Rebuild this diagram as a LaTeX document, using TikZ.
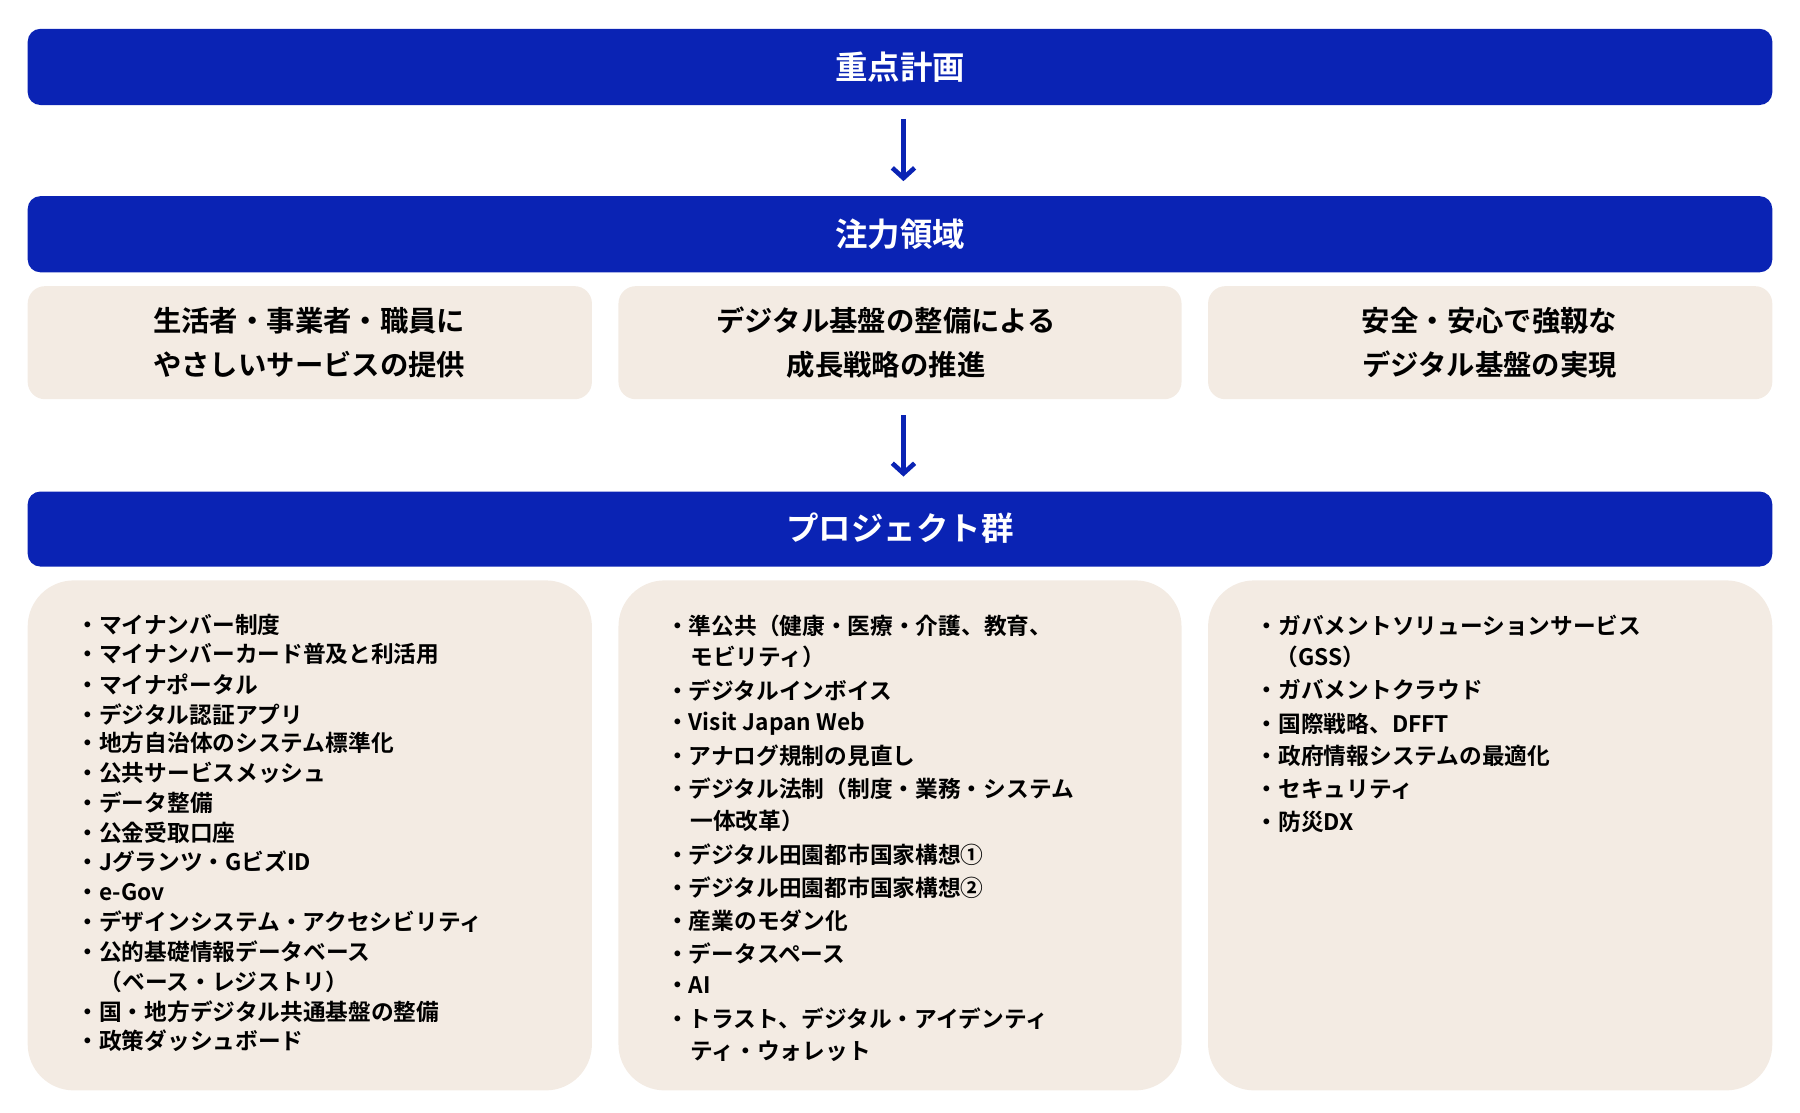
\documentclass[tikz,border=0pt]{standalone}
\usepackage{fontspec}
\setmainfont{Noto Sans CJK JP}[BoldFont={Noto Sans CJK JP Bold}]
\usetikzlibrary{arrows.meta}
\definecolor{dblue}{HTML}{0A23B4}
\definecolor{beige}{HTML}{F3EBE3}
\tikzset{
 bar/.style={fill=dblue,rounded corners=0.22cm,text=white,font=\bfseries\fontsize{16}{18}\selectfont},
 topbox/.style={fill=beige,rounded corners=0.3cm,align=center,font=\bfseries\fontsize{14}{22}\selectfont},
 listbox/.style={fill=beige,rounded corners=0.8cm},
 item/.style={anchor=west,inner sep=0,font=\bfseries\fontsize{11.2}{13}\selectfont},
 flow/.style={dblue,line width=2.3pt,-{Straight Barb[length=5pt,width=11pt]}}
}
\begin{document}
\begin{tikzpicture}[x=0.02cm,y=-0.02cm]
\useasboundingbox (0,0) rectangle (1560,964);
\path[bar] (24,25) rectangle (1536,91);
\node[text=white,font=\bfseries\fontsize{16}{18}\selectfont] (b1) at (780,58) {重点計画};
\path[bar] (24,170) rectangle (1536,236);
\node[text=white,font=\bfseries\fontsize{16}{18}\selectfont] (b2) at (780,203) {注力領域};
\path[bar] (24,426) rectangle (1536,491);
\node[text=white,font=\bfseries\fontsize{16}{18}\selectfont] (b3) at (780,458) {プロジェクト群};
\coordinate (a1s) at (783,103); \coordinate (a1e) at (783,157);
\coordinate (a2s) at (783,360); \coordinate (a2e) at (783,413);
\draw[flow] (a1s) -- (a1e);
\draw[flow] (a2s) -- (a2e);
\path[topbox] (24,248) rectangle (513,346);
\path[topbox] (536,248) rectangle (1024,346);
\path[topbox] (1047,248) rectangle (1536,346);
\node[topbox,fill=none] (t1) at (268,297) {生活者・事業者・職員に\\やさしいサービスの提供};
\node[topbox,fill=none] (t2) at (768,297) {デジタル基盤の整備による\\成長戦略の推進};
\node[topbox,fill=none] (t3) at (1291,297) {安全・安心で強靱な\\デジタル基盤の実現};
\path[listbox] (24,503) rectangle (513,945);
\path[listbox] (536,503) rectangle (1024,945);
\path[listbox] (1047,503) rectangle (1536,945);
\foreach \xx/\y/\t [count=\i] in {
 66/542/・マイナンバー制度,
 66/567/・マイナンバーカード普及と利活用,
 66/593/・マイナポータル,
 66/619/・デジタル認証アプリ,
 66/644/・地方自治体のシステム標準化,
 66/670/・公共サービスメッシュ,
 66/696/・データ整備,
 66/722/・公金受取口座,
 66/747/・Jグランツ・GビズID,
 66/773/・e-Gov,
 66/799/・デザインシステム・アクセシビリティ,
 66/825/・公的基礎情報データベース,
 86/851/（ベース・レジストリ）,
 66/877/・国・地方デジタル共通基盤の整備,
 66/902/・政策ダッシュボード}
 \node[item] (l\i) at (\xx,\y) {\t};
\foreach \xx/\y/\t [count=\i] in {
 577/542/・準公共（健康・医療・介護、教育、,
 598/569/モビリティ）,
 577/598/・デジタルインボイス,
 577/627/・Visit Japan Web,
 577/655/・アナログ規制の見直し,
 577/684/・デジタル法制（制度・業務・システム,
 598/711/一体改革）,
 577/741/・デジタル田園都市国家構想①,
 577/769/・デジタル田園都市国家構想②,
 577/798/・産業のモダン化,
 577/826/・データスペース,
 577/854/・AI,
 577/883/・トラスト、デジタル・アイデンティ,
 598/911/ティ・ウォレット}
 \node[item] (m\i) at (\xx,\y) {\t};
\foreach \xx/\y/\t [count=\i] in {
 1088/542/・ガバメントソリューションサービス,
 1105/569/（GSS）,
 1088/598/・ガバメントクラウド,
 1088/627/・国際戦略、DFFT,
 1088/655/・政府情報システムの最適化,
 1088/684/・セキュリティ,
 1088/712/・防災DX}
 \node[item] (r\i) at (\xx,\y) {\t};
\end{tikzpicture}
\end{document}
